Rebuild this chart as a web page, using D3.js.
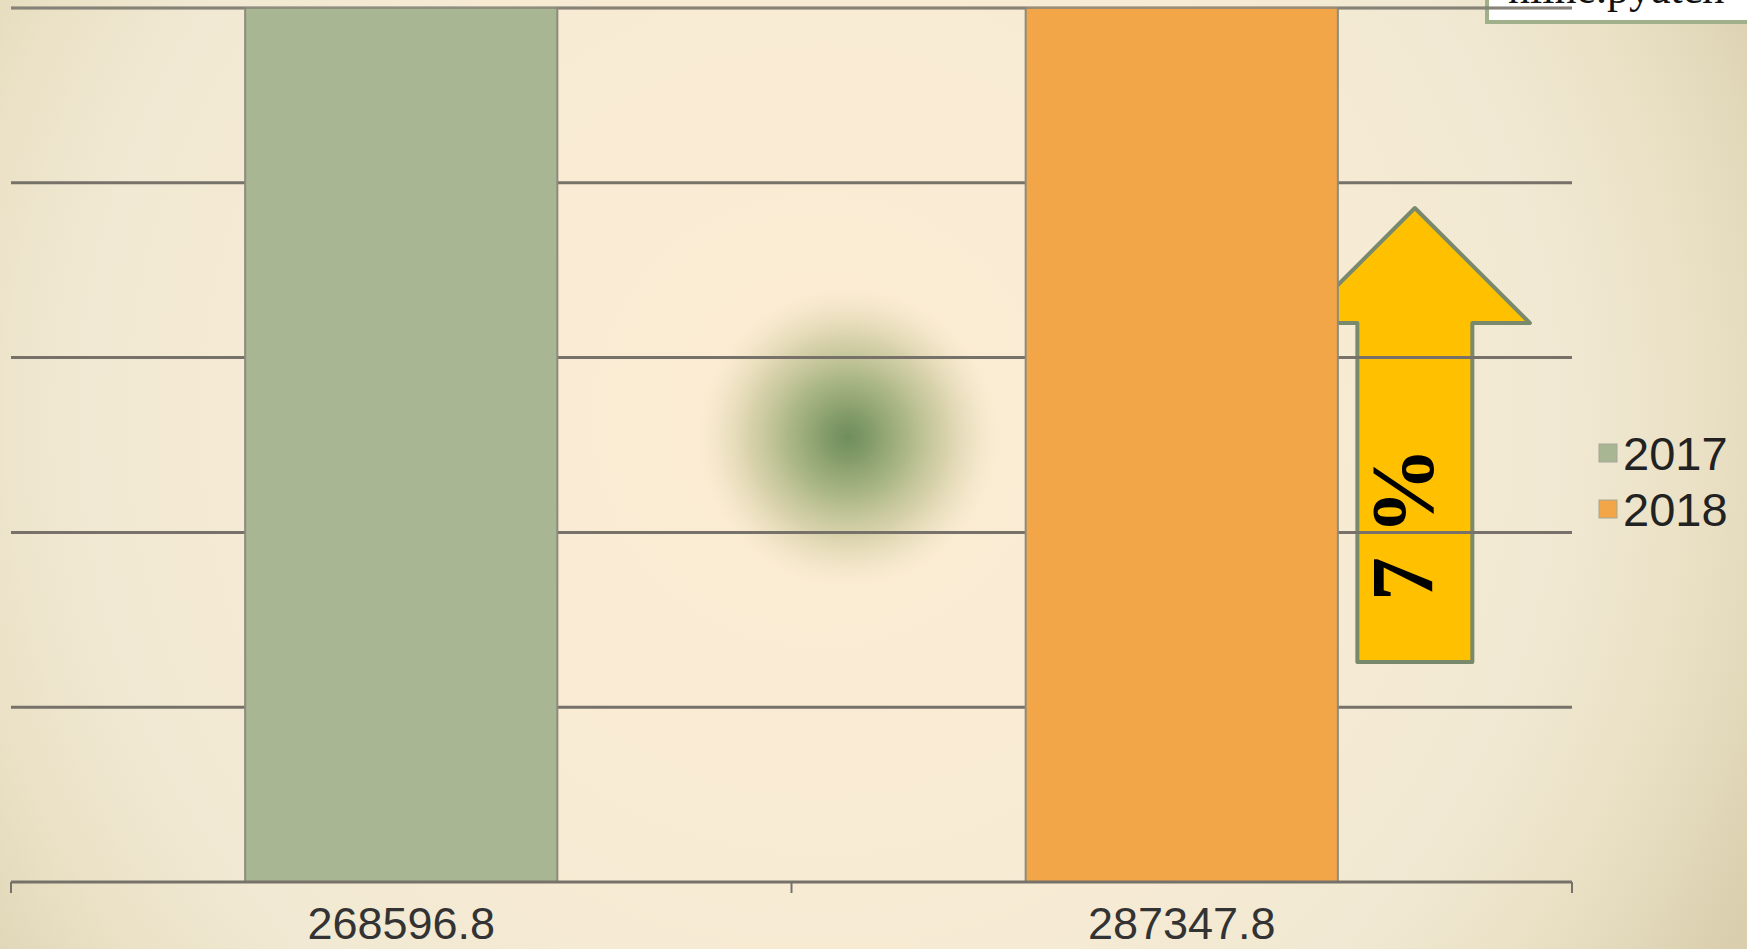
<!DOCTYPE html>
<html><head><meta charset="utf-8">
<script src="https://cdn.jsdelivr.net/npm/d3@7"></script>
<style>html,body{margin:0;padding:0;overflow:hidden;background:#f3ead3}</style>
</head><body>
<script>
// ---- data ----
const categories = ["268596.8", "287347.8"];
const seriesNames = ["2017", "2018"];
const seriesValues = [268596.8, 287347.8];
const seriesColors = ["#a8b693", "#f2a648"];
const gridTicks = [0, 50000, 100000, 150000, 200000, 250000];
const growthLabel = "7 %";
const sourceLabel = "nline.pyatch";

const W = 1747, H = 949;
const svg = d3.select("body").append("svg").attr("width", W).attr("height", H);
const defs = svg.append("defs");

// background gradient
const bg = defs.append("radialGradient").attr("id", "bg").attr("gradientUnits", "userSpaceOnUse")
  .attr("cx", 820).attr("cy", 420).attr("r", 1050);
[[0, "#fcecd3"], [0.45, "#f8ebd4"], [0.7, "#f1e9d3"], [0.85, "#e9e0c4"], [1, "#d9cfae"]]
  .forEach(([o, c]) => bg.append("stop").attr("offset", o).attr("stop-color", c));
svg.append("rect").attr("width", W).attr("height", H).attr("fill", "url(#bg)");

// glow
const gl = defs.append("radialGradient").attr("id", "glow");
[[0, "#6f8d5c", 1], [0.15, "#7c9763", 0.95], [0.4, "#98aa74", 0.8], [0.65, "#b8bb88", 0.55], [0.85, "#d2cca0", 0.25], [1, "#e8dfb5", 0]]
  .forEach(([o, c, a]) => gl.append("stop").attr("offset", o).attr("stop-color", c).attr("stop-opacity", a));
svg.append("circle").attr("cx", 848).attr("cy", 437).attr("r", 150).attr("fill", "url(#glow)");

// scales
const x = d3.scaleBand().domain(categories).range([11, 1572]).padding(0);
const y = d3.scaleLinear().domain([0, 250000]).range([882, 8]);
const barW = x.bandwidth() * 0.4;

// source box (behind chart)
svg.append("rect").attr("x", 1487).attr("y", -20).attr("width", 300).attr("height", 42)
  .attr("fill", "#ffffff").attr("stroke", "#9fb08b").attr("stroke-width", 4);
svg.append("text").attr("x", 1508).attr("y", 3).attr("font-family", "Liberation Serif")
  .attr("font-size", 44).attr("fill", "#111").text(sourceLabel);

// growth arrow annotation (behind gridlines and bars)
const barRight = x(categories[1]) + x.bandwidth() / 2 + barW / 2;
const ax = barRight + 77, shaftHalf = 57.5, headHalf = 115;
const tipY = 208, neckY = 323, baseY = 662;
const arrowPts = [[ax, tipY], [ax + headHalf, neckY], [ax + shaftHalf, neckY], [ax + shaftHalf, baseY],
  [ax - shaftHalf, baseY], [ax - shaftHalf, neckY], [ax - headHalf, neckY]];
svg.append("path").attr("d", d3.line()(arrowPts) + "Z")
  .attr("fill", "#ffc000").attr("stroke", "#798a6c").attr("stroke-width", 4).attr("stroke-linejoin", "round");
svg.append("text").attr("transform", `translate(${ax + 17},524) rotate(-90)`)
  .attr("text-anchor", "middle").attr("font-family", "'Liberation Serif', 'Times New Roman', 'DejaVu Serif', serif").attr("font-weight", "bold")
  .attr("font-size", 88).attr("fill", "#000").text(growthLabel);

// gridlines
svg.append("g").selectAll("line").data(gridTicks.slice(1)).join("line")
  .attr("x1", 11).attr("x2", 1572).attr("y1", d => y(d)).attr("y2", d => y(d))
  .attr("stroke", "#76726a").attr("stroke-width", 3);

// bars (clipped to plot area)
defs.append("clipPath").attr("id", "plot").append("rect")
  .attr("x", 0).attr("y", y(250000) - 1).attr("width", W).attr("height", y(0) - y(250000) + 1);
svg.append("g").attr("clip-path", "url(#plot)").selectAll("rect").data(seriesValues).join("rect")
  .attr("x", (d, i) => x(categories[i]) + x.bandwidth() / 2 - barW / 2)
  .attr("width", barW)
  .attr("y", d => y(d)).attr("height", d => y(0) - y(d))
  .attr("fill", (d, i) => seriesColors[i]).attr("stroke", "#8d8b7d").attr("stroke-width", 2);
svg.append("line").attr("x1", 11).attr("x2", 1572).attr("y1", y(250000)).attr("y2", y(250000))
  .attr("stroke", "#8a867c").attr("stroke-width", 2).attr("opacity", 0.8);

// x axis
const axisG = svg.append("g").attr("transform", `translate(0,${y(0)})`);
axisG.append("line").attr("x1", 11).attr("x2", 1572).attr("stroke", "#76726a").attr("stroke-width", 3);
const bounds = categories.map(c => x(c)).concat([x(categories[categories.length - 1]) + x.bandwidth()]);
axisG.selectAll("line.tk").data(bounds).join("line").attr("class", "tk")
  .attr("x1", d => d).attr("x2", d => d).attr("y1", 0).attr("y2", 11)
  .attr("stroke", "#76726a").attr("stroke-width", 2);
axisG.selectAll("text").data(categories).join("text")
  .attr("x", d => x(d) + x.bandwidth() / 2).attr("y", 57)
  .attr("text-anchor", "middle").attr("font-family", "Liberation Sans, Arial").attr("font-size", 45)
  .attr("fill", "#333").text(d => d);

// legend
const lg = svg.append("g").selectAll("g").data(seriesNames).join("g")
  .attr("transform", (d, i) => `translate(1599,${444 + i * 56})`);
lg.append("rect").attr("width", 18).attr("height", 18).attr("fill", (d, i) => seriesColors[i])
  .attr("stroke", "#a4a898").attr("stroke-width", 1);
lg.append("text").attr("x", 24).attr("y", 26).attr("font-family", "Liberation Sans, Arial")
  .attr("font-size", 47).attr("fill", "#222").text(d => d);
</script>
</body></html>
